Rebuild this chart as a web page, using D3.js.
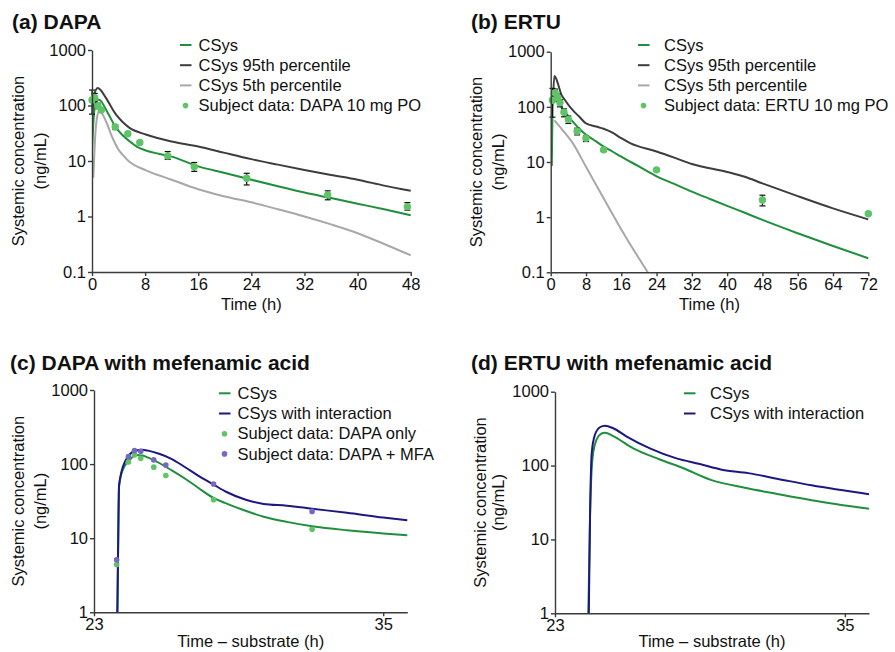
<!DOCTYPE html>
<meta charset="utf-8">
<script src="https://d3js.org/d3.v7.min.js"></script>
<style type="text/css">
  body { margin: 0; background: #fff; }
  text { font-family: "Liberation Sans", Arial, sans-serif; fill: #111; }
  .axis text { font-size: 16.5px; }
  .axis path, .axis line { stroke: #3a3a3a; stroke-width: 1.4; }
</style>
<body>
</body>
<script>

// ---- data (time h, concentration ng/mL) ----
var aCsys = [[0,15],[0.25,60],[0.5,105],[0.8,128],[1.2,125],[2.1,85],[3.6,40],[4.5,30],[5.6,23],[6.8,18],[8.1,15.5],[10,13.5],[12,12],[16,8],[20,6.1],[24,4.6],[28,3.5],[32,2.7],[36,2.15],[40,1.7],[44,1.35],[48,1.05]];
var aP95 = [[0,40],[0.3,150],[0.86,207],[1.3,190],[2.1,137],[3.6,69],[4.5,52],[5.6,40],[8.1,30],[12,22.4],[16,18.3],[20,14],[24,10.8],[28,8.6],[32,6.9],[36,5.6],[40,4.6],[44,3.6],[48,2.9]];
var aP05 = [[0.2,5],[0.5,30],[0.8,65],[1.1,79],[1.5,72],[2.1,52],[3.1,26],[4,16],[4.6,13],[5.5,10],[6.6,8.2],[8.1,6.8],[12,4.6],[16,3.1],[20,2.3],[24,1.8],[28,1.35],[32,1],[36,0.72],[40,0.5],[44,0.32],[48,0.2]];
var aObsTime = [0, 0.4, 0.9, 1.4, 3.5, 5.4, 7.2, 11.4, 15.4, 23.3, 35.5, 47.5];
var aObs     = [126, 140, 98, 83, 41, 31, 21.5, 12.3, 7.9, 4.9, 2.45, 1.5];
var aObsLo   = [70, 118, 88, 80, 37, 29, 20, 10.7, 6.5, 3.7, 2.0, 1.3];
var aObsHi   = [190, 165, 110, 88, 45, 33, 23, 14.8, 9.4, 6.0, 2.9, 1.78];

var bCsys = [[0.25,8.5],[0.4,80],[0.6,188],[1,170],[1.95,115],[3.5,76],[5,54],[7.25,35],[10.3,23.6],[12,19],[14,15.5],[16,12.5],[20,8.3],[24,5.5],[28,4],[32,2.9],[36,2.15],[40,1.6],[44,1.2],[48,0.89],[56,0.51],[64,0.3],[72,0.18]];
var bP95 = [[0.5,120],[0.82,362],[1.2,330],[1.6,270],[2.3,176],[3.5,124],[5,87],[6.5,66],[8,50],[10.3,44],[12,40],[14,34],[16,27],[18,22],[24,15.5],[28,12],[32,9.2],[40,6.6],[44,5.4],[48,4.1],[56,2.4],[64,1.44],[72,0.91]];
var bP05 = [[0.82,57],[2.7,38],[5,22],[8,8.2],[12,2.2],[16,0.6],[22,0.1],[23,0.075]];
var bObsTime = [0.4, 1, 1.6, 2.1, 3, 4, 6, 8, 12, 24, 48, 72];
var bObs     = [132, 180, 148, 119, 80, 59, 36, 27, 16.6, 7.2, 2.05, 1.15];
var bObsLo   = [65, 150, 125, 100, 66, 50, 31, 23.5, 15.5, 6.8, 1.6, 1.1];
var bObsHi   = [216, 210, 170, 135, 92, 68, 41, 30, 17.5, 7.6, 2.5, 1.2];

var cCsys = [[23.97,1],[24,7],[24.04,50],[24.2,85],[24.41,107],[24.76,133],[25,131],[25.17,125],[25.5,112],[26.21,83],[26.8,63],[27.32,48],[27.96,35],[28.43,30],[29.2,24],[30.04,19.5],[31,16.6],[32.05,14.5],[33.5,12.8],[35,11.6],[36,11]];
var cInter = [[23.97,1],[24,7],[24.04,52],[24.28,107],[24.69,150],[25,156],[25.24,152],[25.7,138],[26.21,118],[26.8,90],[27.32,70],[27.96,53],[28.5,42],[29.3,33],[30.04,29],[31,27.5],[32.05,25],[33.5,22],[35,19],[36,17.5]];
var cObsTime = [23.94, 24.43, 24.68, 24.94, 25.48, 25.98, 27.96, 32.05];
var cObsDapa = [4.4, 107, 133, 120, 91, 70, 33, 13.2];
var cObsMfa  = [5.1, 126, 152, 149, 114, 97, 54, 23];

var dCsys = [[24.38,1],[24.45,20],[24.56,132],[24.73,228],[24.9,268],[25.07,279],[25.41,251],[26.24,171],[27.34,121],[28.31,92],[29.45,64],[30.86,50],[32.24,41],[33.62,34],[36,26]];
var dInter = [[24.4,1],[24.45,20],[24.52,147],[24.65,259],[24.86,330],[25.07,347],[25.41,320],[25.97,247],[26.93,171],[28.03,125],[29,105],[29.9,88],[31,79],[32.24,66],[33.62,54],[36,41]];

var yTicks = [0.1, 1, 10, 100, 1000];
var yTicksCD = [1, 10, 100, 1000];

// ---- colours ----
var green = "#1f8f3c", dotGreen = "#5fc468", dark = "#3d3d3d", light = "#a8a8a8",
    navy = "#1c1781", purple = "#7667c2";

var svg = d3.select("body").append("svg")
    .attr("width", 895)
    .attr("height", 652);

var panels = [
  { id: "a", title: "(a) DAPA", titleX: 12, titleY: 29,
    left: 92, right: 410.7, top: 50, bottom: 272, xLabelY: 310,
    xDomain: [0, 48], xTicks: [0, 8, 16, 24, 32, 40, 48], yDomain: [0.1, 1000], yTicks: yTicks,
    xLabel: "Time (h)", yOff: [-74, -52],
    lines: [{d: aP95, c: dark}, {d: aP05, c: light}, {d: aCsys, c: green}],
    obs: [{t: aObsTime, v: aObs, lo: aObsLo, hi: aObsHi, c: dotGreen, r: 3.7}],
    legX: 180, legY: 45,
    legend: [["CSys", "line", green], ["CSys 95th percentile", "line", dark],
             ["CSys 5th percentile", "line", light], ["Subject data: DAPA 10 mg PO", "dot", dotGreen]] },
  { id: "b", title: "(b) ERTU", titleX: 471, titleY: 29,
    left: 550.7, right: 868.3, top: 51.7, bottom: 272.3, xLabelY: 310,
    xDomain: [0, 72], xTicks: [0, 8, 16, 24, 32, 40, 48, 56, 64, 72], yDomain: [0.1, 1000], yTicks: yTicks,
    xLabel: "Time (h)", yOff: [-74, -52.5],
    lines: [{d: bP95, c: dark}, {d: bP05, c: light}, {d: bCsys, c: green}],
    obs: [{t: bObsTime, v: bObs, lo: bObsLo, hi: bObsHi, c: dotGreen, r: 3.7}],
    legX: 638, legY: 45,
    legend: [["CSys", "line", green], ["CSys 95th percentile", "line", dark],
             ["CSys 5th percentile", "line", light], ["Subject data: ERTU 10 mg PO", "dot", dotGreen]] },
  { id: "c", title: "(c) DAPA with mefenamic acid", titleX: 10, titleY: 370,
    left: 94, right: 407.3, top: 390, bottom: 612.3, xLabelY: 647,
    xDomain: [23, 36], xTicks: [23, 35], yDomain: [1, 1000], yTicks: yTicksCD,
    xLabel: "Time \u2013 substrate (h)", yOff: [-76, -54],
    lines: [{d: cCsys, c: green}, {d: cInter, c: navy}],
    obs: [{t: cObsTime, v: cObsDapa, c: dotGreen, r: 2.8}, {t: cObsTime, v: cObsMfa, c: purple, r: 2.8}],
    legX: 219, legY: 393.3,
    legend: [["CSys", "line", green], ["CSys with interaction", "line", navy],
             ["Subject data: DAPA only", "dot", dotGreen], ["Subject data: DAPA + MFA", "dot", purple]] },
  { id: "d", title: "(d) ERTU with mefenamic acid", titleX: 471, titleY: 370,
    left: 555, right: 869, top: 391.7, bottom: 613.3, xLabelY: 647,
    xDomain: [23, 36], xTicks: [23, 35], yDomain: [1, 1000], yTicks: yTicksCD,
    xLabel: "Time \u2013 substrate (h)", yOff: [-75, -56.5],
    lines: [{d: dCsys, c: green}, {d: dInter, c: navy}],
    obs: [],
    legX: 684, legY: 393.3,
    legend: [["CSys", "line", green], ["CSys with interaction", "line", navy]] }
];

panels.forEach(drawPanel);

function drawPanel(p) {
  var g = svg.append("g");
  var x = d3.scaleLinear().domain(p.xDomain).range([p.left, p.right]);
  var y = d3.scaleLog().domain(p.yDomain).range([p.bottom, p.top]);

  g.append("clipPath").attr("id", "clip-" + p.id)
    .append("rect")
      .attr("x", p.left).attr("y", p.top - 2)
      .attr("width", p.right - p.left + 2).attr("height", p.bottom - p.top + 2);

  var line = d3.line()
      .x(function(d) { return x(d[0]); })
      .y(function(d) { return y(d[1]); })
      .curve(d3.curveMonotoneX);

  var plot = g.append("g").attr("clip-path", "url(#clip-" + p.id + ")");

  plot.selectAll(".curve")
      .data(p.lines)
    .enter().append("path")
      .attr("fill", "none")
      .attr("stroke", function(d) { return d.c; })
      .attr("stroke-width", 2)
      .attr("d", function(d) { return line(d.d); });

  p.obs.forEach(function(o) {
    if (o.lo) {
      var eb = g.selectAll(null).data(o.t).enter().append("g")
          .attr("stroke", "#111").attr("stroke-width", 1.2);
      eb.append("line")
        .attr("x1", function(d) { return x(d); }).attr("x2", function(d) { return x(d); })
        .attr("y1", function(d, i) { return y(o.lo[i]); })
        .attr("y2", function(d, i) { return y(o.hi[i]); });
      eb.append("line")
        .attr("x1", function(d) { return x(d) - 3; }).attr("x2", function(d) { return x(d) + 3; })
        .attr("y1", function(d, i) { return y(o.lo[i]); })
        .attr("y2", function(d, i) { return y(o.lo[i]); });
      eb.append("line")
        .attr("x1", function(d) { return x(d) - 3; }).attr("x2", function(d) { return x(d) + 3; })
        .attr("y1", function(d, i) { return y(o.hi[i]); })
        .attr("y2", function(d, i) { return y(o.hi[i]); });
    }
    g.selectAll(null).data(o.t).enter().append("circle")
      .attr("cx", function(d) { return x(d); })
      .attr("cy", function(d, i) { return y(o.v[i]); })
      .attr("r", o.r)
      .attr("fill", o.c);
  });

  g.append("g")
    .attr("class", "axis")
    .attr("transform", "translate(" + p.left + ",0)")
    .call(d3.axisLeft(y).tickValues(p.yTicks).tickFormat(function(d) { return d; })
      .tickSize(4).tickSizeOuter(0).tickPadding(2));

  g.append("g")
    .attr("class", "axis")
    .attr("transform", "translate(0," + p.bottom + ")")
    .call(d3.axisBottom(x).tickValues(p.xTicks).tickFormat(function(d) { return d; })
      .tickSize(4).tickSizeOuter(0).tickPadding(2));

  g.selectAll(".axis text").attr("fill", "#111");

  // titles
  g.append("text")
    .attr("x", p.titleX).attr("y", p.titleY)
    .style("font-size", "21px").style("font-weight", "bold")
    .text(p.title);

  g.append("text")
    .attr("x", (p.left + p.right) / 2).attr("y", p.xLabelY)
    .attr("text-anchor", "middle")
    .style("font-size", "16.5px")
    .text(p.xLabel);

  var cy = (p.top + p.bottom) / 2;
  ["Systemic concentration", "(ng/mL)"].forEach(function(s, i) {
    g.append("text")
      .attr("transform", "translate(" + (p.left + p.yOff[i]) + "," + cy + ") rotate(-90)")
      .attr("text-anchor", "middle")
      .attr("dy", "0.35em")
      .style("font-size", "16.5px")
      .text(s);
  });

  // legend
  var leg = g.selectAll(".leg").data(p.legend).enter().append("g")
      .attr("transform", function(d, i) { return "translate(" + p.legX + "," + (p.legY + i * 20.2) + ")"; });
  leg.filter(function(d) { return d[1] == "line"; }).append("line")
      .attr("x1", 0).attr("x2", 11.5).attr("y1", 0).attr("y2", 0)
      .attr("stroke", function(d) { return d[2]; }).attr("stroke-width", 2);
  leg.filter(function(d) { return d[1] == "dot"; }).append("circle")
      .attr("cx", 5.5).attr("cy", 0).attr("r", 2.8)
      .attr("fill", function(d) { return d[2]; });
  leg.append("text")
      .attr("x", p.id == "a" || p.id == "c" ? 18.5 : 26)
      .attr("dy", "0.35em")
      .style("font-size", "16.5px")
      .text(function(d) { return d[0]; });
}

</script>
